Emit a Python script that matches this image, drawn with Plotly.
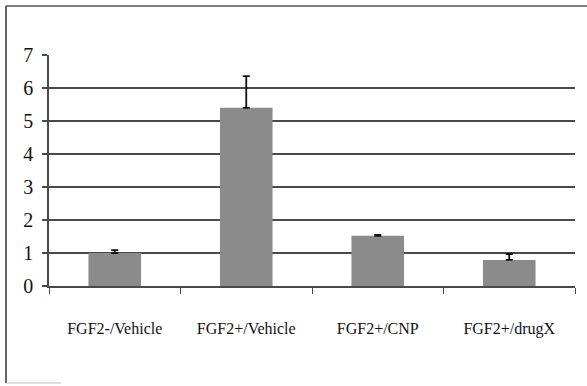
import plotly.graph_objects as go

# Relative expression per treatment group, with upward SEM bars
groups = ["FGF2-/Vehicle", "FGF2+/Vehicle", "FGF2+/CNP", "FGF2+/drugX"]
means = [1.0, 5.4, 1.52, 0.79]
err_up = [0.09, 0.96, 0.03, 0.18]
y_ticks = [0, 1, 2, 3, 4, 5, 6, 7]

serif = "Liberation Serif"
line_col = "#4a4a4a"

fig = go.Figure(
    go.Bar(
        x=groups,
        y=means,
        marker=dict(color="#8b8b8b", line=dict(width=0)),
        error_y=dict(
            type="data",
            symmetric=False,
            array=err_up,
            arrayminus=[0] * len(err_up),
            color="#111111",
            thickness=1.8,
            width=3.5,
        ),
    )
)

fig.update_layout(
    width=587,
    height=386,
    margin=dict(l=49, r=12, t=55, b=100),
    paper_bgcolor="white",
    plot_bgcolor="white",
    bargap=0.6,
    showlegend=False,
    font=dict(family=serif, color="#111111"),
)

fig.update_xaxes(
    type="category",
    tickson="boundaries",
    ticks="outside",
    ticklen=6,
    tickwidth=1.2,
    tickcolor=line_col,
    showline=True,
    linecolor=line_col,
    linewidth=1.8,
    showgrid=False,
    tickfont=dict(size=16, family=serif, color="#111111"),
    ticklabelstandoff=27,
)

fig.update_yaxes(
    range=[0, 7],
    tickvals=y_ticks,
    ticks="outside",
    ticklen=5,
    tickwidth=1.5,
    tickcolor=line_col,
    showline=True,
    linecolor=line_col,
    linewidth=1.5,
    showgrid=True,
    gridcolor=line_col,
    gridwidth=1.6,
    zeroline=False,
    tickfont=dict(size=20, family=serif, color="#111111"),
    ticklabelstandoff=5,
)

# Outer frame around the chart area
fig.add_shape(type="line", xref="paper", yref="paper",
              x0=-43 / 526, x1=1.03, y0=1 + 49 / 231, y1=1 + 49 / 231,
              line=dict(color="#555555", width=1.5))
fig.add_shape(type="line", xref="paper", yref="paper",
              x0=-43 / 526, x1=-43 / 526, y0=1 + 49 / 231, y1=-97 / 231,
              line=dict(color="#333333", width=1.5))
fig.add_shape(type="line", xref="paper", yref="paper",
              x0=-43 / 526, x1=12 / 526, y0=-97 / 231, y1=-97 / 231,
              line=dict(color="#bbbbbb", width=1))

fig.write_html("out.html")
